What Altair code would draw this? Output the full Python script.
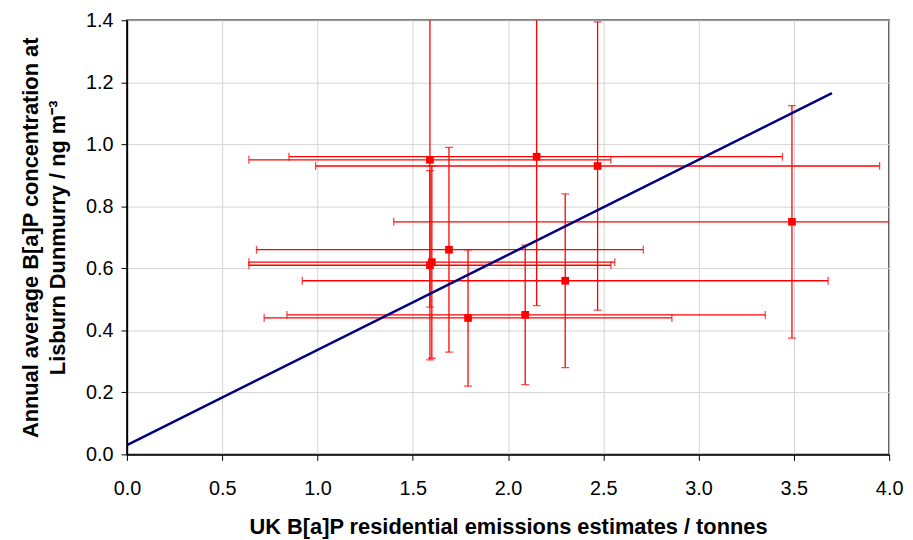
import altair as alt
import pandas as pd

x_val = [1.59, 2.15, 2.47, 3.49, 1.69, 1.60, 1.59, 2.30, 2.09, 1.79]
y_val = [0.95, 0.96, 0.93, 0.75, 0.66, 0.62, 0.61, 0.56, 0.45, 0.44]
x_lo = [0.64, 0.85, 0.99, 1.40, 0.68, 0.64, 0.64, 0.92, 0.84, 0.72]
x_hi = [2.54, 3.44, 3.95, 5.58, 2.71, 2.56, 2.54, 3.68, 3.35, 2.86]
y_lo = [0.475, 0.48, 0.465, 0.375, 0.33, 0.31, 0.305, 0.28, 0.225, 0.22]
y_hi = [1.425, 1.44, 1.395, 1.125, 0.99, 0.93, 0.915, 0.84, 0.675, 0.66]

trend_x = [0.0, 3.70]
trend_y = [0.03, 1.165]

x_ticks = [0.0, 0.5, 1.0, 1.5, 2.0, 2.5, 3.0, 3.5, 4.0]
y_ticks = [0.0, 0.2, 0.4, 0.6, 0.8, 1.0, 1.2, 1.4]

df = pd.DataFrame({"x": x_val, "y": y_val, "xlo": x_lo, "xhi": x_hi,
                   "ylo": y_lo, "yhi": y_hi})
line_df = pd.DataFrame({"x": trend_x, "y": trend_y})

xs = alt.Scale(domain=[0, 4], nice=False, zero=False)
ys = alt.Scale(domain=[0, 1.4], nice=False, zero=False)

x_axis = alt.Axis(values=x_ticks, format=".1f",
                  title="UK B[a]P residential emissions estimates / tonnes",
                  labelPadding=18, titlePadding=19, labelFlush=False)
y_axis = alt.Axis(values=y_ticks, format=".1f",
                  title=["Annual average B[a]P concentration at",
                         "Lisburn Dunmurry / ng m\u207b\u00b3"],
                  labelPadding=8, titlePadding=16, labelFlush=False)

RED = "#ff0000"

def X(f):
    return alt.X(f + ":Q", scale=xs, axis=x_axis)

def Y(f):
    return alt.Y(f + ":Q", scale=ys, axis=y_axis)

base = alt.Chart(df)

vbars = base.mark_rule(color=RED, strokeWidth=1.3, clip=True).encode(
    x=X("x"), y=Y("ylo"), y2="yhi:Q")
hbars = base.mark_rule(color=RED, strokeWidth=1.3, clip=True).encode(
    x=X("xlo"), x2="xhi:Q", y=Y("y"))
cap_ylo = base.mark_tick(color=RED, orient="horizontal", size=8, thickness=1.3, clip=True).encode(
    x=X("x"), y=Y("ylo"))
cap_yhi = base.mark_tick(color=RED, orient="horizontal", size=8, thickness=1.3, clip=True).encode(
    x=X("x"), y=Y("yhi"))
cap_xlo = base.mark_tick(color=RED, orient="vertical", size=8, thickness=1.3, clip=True).encode(
    x=X("xlo"), y=Y("y"))
cap_xhi = base.mark_tick(color=RED, orient="vertical", size=8, thickness=1.3, clip=True).encode(
    x=X("xhi"), y=Y("y"))
points = base.mark_square(color=RED, size=60, opacity=1).encode(x=X("x"), y=Y("y"))

trend = alt.Chart(line_df).mark_line(color="#000080", strokeWidth=2.5, clip=True).encode(
    x=X("x"), y=Y("y"))

chart = alt.layer(vbars, hbars, cap_ylo, cap_yhi, cap_xlo, cap_xhi, points, trend).properties(
    width=769, height=438,
    autosize=alt.AutoSizeParams(type="none"),
    padding={"left": 120, "top": 10, "right": 16, "bottom": 84},
    background="white",
).configure_view(
    stroke="black", strokeWidth=1.5
).configure_axis(
    labelFont="Liberation Sans", labelFontSize=20, labelColor="black",
    titleFont="Liberation Sans", titleFontSize=22, titleFontWeight="bold",
    titleColor="black", titleLineHeight=27,
    gridColor="#d4d4d4", gridWidth=1,
    tickColor="black", tickSize=6, tickWidth=1,
    domainColor="black", domainWidth=1.5,
)

chart.save("out.html", embed_options={"renderer": "svg", "actions": False})
